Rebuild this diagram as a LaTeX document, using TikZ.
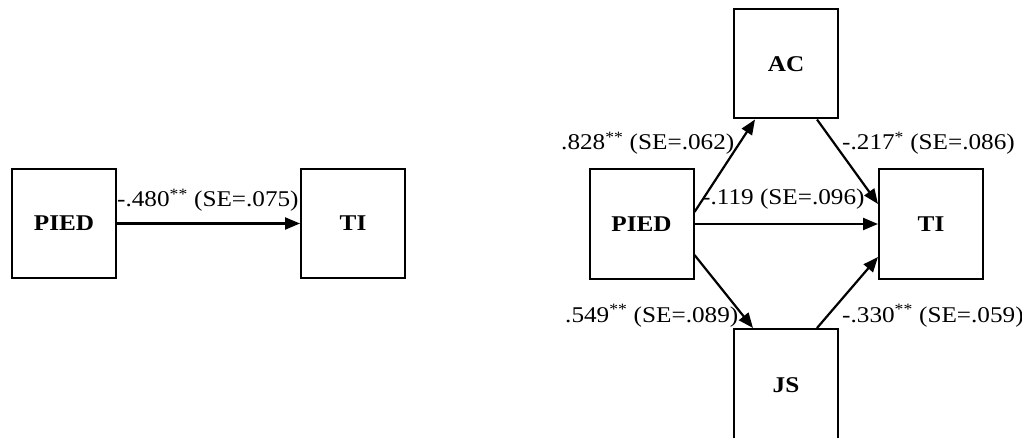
\documentclass[tikz,border=0pt]{standalone}
\usepackage{fontspec}
\setmainfont{Liberation Serif}[FakeStretch=1.12]
\usetikzlibrary{arrows.meta}
\tikzset{
  box/.style={draw, line width=2pt, minimum width=104pt, minimum height=109pt, inner sep=0pt, font=\fontsize{22.5}{27}\selectfont\bfseries},
  lbl/.style={anchor=base west, inner sep=0pt, font=\fontsize{22.5}{27}\selectfont},
  conn/.style={line width=2.2pt, -{Triangle[length=15pt,width=12pt]}}
}
\begin{document}
\begin{tikzpicture}[x=1pt,y=-1pt]
\useasboundingbox (0,0) rectangle (1022,438);
\clip (0,0) rectangle (1022,438);
% left model
\node[box] (lpied) at (64,223.5) {PIED};
\node[box] (lti) at (353,223.5) {TI};
\draw[conn] (lpied.east) -- (lti.west);
\node[lbl] (l1) at (117,207) {-.480\textsuperscript{**} (SE=.075)};
% right model
\node[box] (ac) at (786,64) {AC};
\node[box] (rpied) at (641.5,224) {PIED};
\node[box] (rti) at (931,224) {TI};
\node[box, minimum height=112pt] (js) at (786,385) {JS};
\draw[conn] ([yshift=12pt]rpied.east) -- ([xshift=-31pt]ac.south);
\draw[conn] ([xshift=31pt]ac.south) -- ([yshift=20pt]rti.west);
\draw[conn] (rpied.east) -- (rti.west);
\draw[conn] ([yshift=-31pt]rpied.east) -- ([xshift=-33pt]js.north);
\draw[conn] ([xshift=31pt]js.north) -- ([yshift=-33pt]rti.west);
\node[lbl] (r1) at (561,150) {.828\textsuperscript{**} (SE=.062)};
\node[lbl] (r2) at (842,150) {-.217\textsuperscript{*} (SE=.086)};
\node[lbl] (r3) at (702,205) {-.119 (SE=.096)};
\node[lbl] (r4) at (565,322) {.549\textsuperscript{**} (SE=.089)};
\node[lbl] (r5) at (842,322) {-.330\textsuperscript{**} (SE=.059)};
\end{tikzpicture}
\end{document}
